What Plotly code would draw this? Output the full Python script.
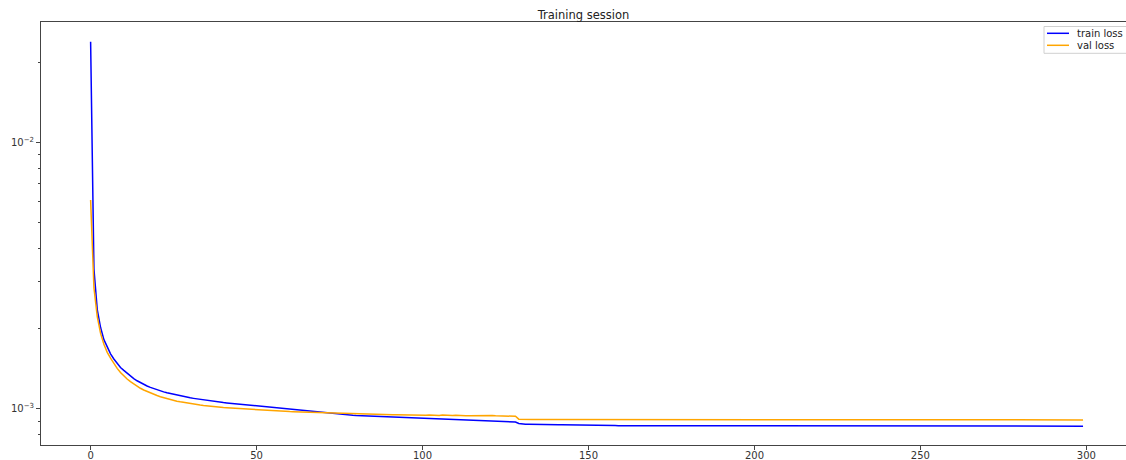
import plotly.graph_objects as go

train_loss = [
    0.0238, 0.00335, 0.00236, 0.00202, 0.00182, 0.00170, 0.00161, 0.00154, 0.00148, 0.00143,
    0.001395, 0.001360, 0.001328, 0.001300, 0.001276, 0.001255, 0.001236, 0.001220, 0.001205, 0.001192,
    0.001180, 0.001169, 0.001159, 0.001150, 0.001142, 0.001134, 0.001127, 0.001120, 0.001113, 0.001107,
    0.001101, 0.001096, 0.001091, 0.001086, 0.001081, 0.001077, 0.001073, 0.001069, 0.001065, 0.001061,
    0.001057, 0.001054, 0.001051, 0.001048, 0.001045, 0.001042, 0.001039, 0.001036, 0.001033, 0.001030,
    0.001027, 0.001024, 0.001021, 0.001018, 0.001015, 0.001012, 0.001009, 0.001006, 0.001003, 0.001000,
    0.000997, 0.000994, 0.000991, 0.000988, 0.000985, 0.000982, 0.000979, 0.000976, 0.000973, 0.000970,
    0.000967, 0.000964, 0.000962, 0.000960, 0.000958, 0.000956, 0.000954, 0.000952, 0.000950, 0.000948,
    0.000946, 0.000945, 0.000944, 0.000943, 0.000942, 0.000941, 0.000940, 0.000939, 0.000938, 0.000937,
    0.000936, 0.000935, 0.000934, 0.000933, 0.000932, 0.000931, 0.000930, 0.000929, 0.000928, 0.000927,
    0.000926, 0.000925, 0.000924, 0.000923, 0.000921, 0.000920, 0.000919, 0.000918, 0.000916, 0.000915,
    0.000914, 0.000912, 0.000911, 0.000910, 0.000909, 0.000908, 0.000907, 0.000906, 0.000905, 0.000904,
    0.000903, 0.000902, 0.000900, 0.000899, 0.000898, 0.000897, 0.000896, 0.000895, 0.000893, 0.000882,
    0.000877, 0.000876, 0.000876, 0.000875, 0.000875, 0.000874, 0.000874, 0.000874, 0.000873, 0.000873,
    0.000873, 0.000872, 0.000872, 0.000872, 0.000871, 0.000871, 0.000871, 0.000870, 0.000870, 0.000870,
    0.000869, 0.000869, 0.000869, 0.000868, 0.000868, 0.000868, 0.000867, 0.000867, 0.000867, 0.000866,
    0.000866, 0.000866, 0.000866, 0.000865, 0.000865, 0.000865, 0.000864, 0.000864, 0.000864, 0.000864,
    0.000864, 0.000863, 0.000863, 0.000863, 0.000863, 0.000863, 0.000863, 0.000863, 0.000863, 0.000863,
    0.000863, 0.000863, 0.000862, 0.000863, 0.000863, 0.000863, 0.000862, 0.000863, 0.000863, 0.000863,
    0.000862, 0.000863, 0.000863, 0.000862, 0.000862, 0.000863, 0.000863, 0.000862, 0.000862, 0.000862,
    0.000863, 0.000862, 0.000862, 0.000862, 0.000863, 0.000862, 0.000862, 0.000862, 0.000862, 0.000862,
    0.000862, 0.000862, 0.000861, 0.000862, 0.000862, 0.000862, 0.000862, 0.000861, 0.000862, 0.000862,
    0.000862, 0.000862, 0.000861, 0.000862, 0.000862, 0.000862, 0.000861, 0.000862, 0.000862, 0.000861,
    0.000862, 0.000862, 0.000861, 0.000862, 0.000862, 0.000862, 0.000862, 0.000861, 0.000862, 0.000862,
    0.000862, 0.000861, 0.000862, 0.000862, 0.000862, 0.000861, 0.000862, 0.000862, 0.000862, 0.000862,
    0.000861, 0.000862, 0.000862, 0.000862, 0.000861, 0.000862, 0.000862, 0.000862, 0.000862, 0.000861,
    0.000862, 0.000862, 0.000862, 0.000861, 0.000862, 0.000862, 0.000862, 0.000862, 0.000861, 0.000862,
    0.000862, 0.000862, 0.000861, 0.000862, 0.000862, 0.000862, 0.000861, 0.000862, 0.000862, 0.000862,
    0.000862, 0.000861, 0.000862, 0.000862, 0.000862, 0.000861, 0.000862, 0.000862, 0.000862, 0.000862,
    0.000861, 0.000862, 0.000862, 0.000862, 0.000861, 0.000862, 0.000862, 0.000862, 0.000861, 0.000862,
]

val_loss = [
    0.00608, 0.00285, 0.00222, 0.00192, 0.00175, 0.00163, 0.00155, 0.00148, 0.00142, 0.00137,
    0.001330, 0.001296, 0.001266, 0.001240, 0.001217, 0.001196, 0.001178, 0.001162, 0.001148, 0.001135,
    0.001123, 0.001112, 0.001102, 0.001093, 0.001085, 0.001077, 0.001070, 0.001064, 0.001058, 0.001053,
    0.001048, 0.001043, 0.001039, 0.001035, 0.001031, 0.001027, 0.001024, 0.001021, 0.001018, 0.001015,
    0.001012, 0.001010, 0.001008, 0.001006, 0.001004, 0.001002, 0.001000, 0.000998, 0.000997, 0.000996,
    0.000994, 0.000992, 0.000990, 0.000988, 0.000987, 0.000985, 0.000984, 0.000982, 0.000981, 0.000980,
    0.000978, 0.000977, 0.000976, 0.000975, 0.000974, 0.000972, 0.000971, 0.000970, 0.000969, 0.000968,
    0.000967, 0.000966, 0.000965, 0.000964, 0.000963, 0.000962, 0.000961, 0.000961, 0.000960, 0.000959,
    0.000958, 0.000958, 0.000957, 0.000956, 0.000956, 0.000955, 0.000955, 0.000954, 0.000954, 0.000953,
    0.000953, 0.000952, 0.000952, 0.000951, 0.000951, 0.000950, 0.000950, 0.000950, 0.000949, 0.000949,
    0.000950, 0.000948, 0.000949, 0.000947, 0.000948, 0.000946, 0.000950, 0.000947, 0.000948, 0.000946,
    0.000947, 0.000944, 0.000945, 0.000944, 0.000943, 0.000944, 0.000942, 0.000943, 0.000944, 0.000942,
    0.000944, 0.000945, 0.000943, 0.000942, 0.000941, 0.000941, 0.000940, 0.000940, 0.000939, 0.000916,
    0.000914, 0.000914, 0.000914, 0.000913, 0.000913, 0.000913, 0.000913, 0.000913, 0.000913, 0.000912,
    0.000912, 0.000912, 0.000912, 0.000912, 0.000912, 0.000912, 0.000911, 0.000912, 0.000912, 0.000911,
    0.000911, 0.000911, 0.000911, 0.000911, 0.000911, 0.000911, 0.000911, 0.000911, 0.000911, 0.000911,
    0.000911, 0.000911, 0.000911, 0.000910, 0.000911, 0.000910, 0.000910, 0.000910, 0.000910, 0.000910,
    0.000910, 0.000910, 0.000910, 0.000910, 0.000910, 0.000910, 0.000910, 0.000910, 0.000910, 0.000910,
    0.000910, 0.000910, 0.000910, 0.000910, 0.000910, 0.000910, 0.000910, 0.000910, 0.000910, 0.000910,
    0.000910, 0.000910, 0.000910, 0.000910, 0.000910, 0.000910, 0.000910, 0.000910, 0.000910, 0.000910,
    0.000910, 0.000910, 0.000910, 0.000910, 0.000910, 0.000910, 0.000910, 0.000910, 0.000910, 0.000910,
    0.000910, 0.000910, 0.000910, 0.000910, 0.000910, 0.000910, 0.000910, 0.000910, 0.000910, 0.000910,
    0.000910, 0.000910, 0.000910, 0.000910, 0.000910, 0.000910, 0.000910, 0.000910, 0.000910, 0.000910,
    0.000910, 0.000910, 0.000910, 0.000910, 0.000910, 0.000910, 0.000910, 0.000910, 0.000910, 0.000910,
    0.000910, 0.000910, 0.000910, 0.000910, 0.000910, 0.000910, 0.000910, 0.000910, 0.000910, 0.000910,
    0.000910, 0.000910, 0.000910, 0.000910, 0.000910, 0.000910, 0.000910, 0.000910, 0.000910, 0.000910,
    0.000910, 0.000910, 0.000910, 0.000910, 0.000910, 0.000910, 0.000910, 0.000910, 0.000910, 0.000910,
    0.000910, 0.000910, 0.000910, 0.000910, 0.000910, 0.000910, 0.000910, 0.000910, 0.000910, 0.000910,
    0.000910, 0.000910, 0.000910, 0.000910, 0.000910, 0.000910, 0.000910, 0.000910, 0.000910, 0.000910,
    0.000910, 0.000910, 0.000910, 0.000910, 0.000910, 0.000910, 0.000910, 0.000910, 0.000910, 0.000910,
]

x_tick_vals = [0, 50, 100, 150, 200, 250, 300]
x_tick_text = ["0", "50", "100", "150", "200", "250", "300"]
y_tick_vals = [0.001, 0.01]
y_tick_text = ["10<sup>\u22123</sup>", "10<sup>\u22122</sup>"]
y_minor_vals = [0.0008, 0.0009, 0.002, 0.003, 0.004, 0.005, 0.006, 0.007, 0.008, 0.009, 0.02]

title_text = "Training session"
names = ["train loss", "val loss"]
colors = ["#0000ff", "#ffa500"]

FONT = "DejaVu Sans, Liberation Sans, sans-serif"
AX = "#444444"

# figure geometry; page body margin removed below so figure px == page px.
# The figure is a little wider than the window so the plot is cropped at the right.
W, H = 1132, 460
ML, MR, MT, MB = 41, 0, 22, 15
PW, PH = W - ML - MR, H - MT - MB


def px(xf):
    return (xf - ML) / PW


def py(yf):
    return (H - MB - yf) / PH


fig = go.Figure()
for name, ys, col in [(names[0], train_loss, colors[0]), (names[1], val_loss, colors[1])]:
    fig.add_trace(go.Scatter(x=list(range(len(ys))), y=ys, mode="lines",
                             name=name, line=dict(color=col, width=1.5)))

# legend drawn like matplotlib's compact legend box (cropped at the right edge)
shapes = [dict(type="rect", xref="paper", yref="paper",
               x0=px(1044), x1=px(1129), y0=py(53.3), y1=py(26.5),
               line=dict(color="#d0d0d0", width=1), fillcolor="rgba(255,255,255,0.8)", layer="above")]
annotations = []
for i, (name, col) in enumerate(zip(names, colors)):
    yy = 33.3 + i * 12.0
    shapes.append(dict(type="line", xref="paper", yref="paper",
                       x0=px(1047), x1=px(1069), y0=py(yy), y1=py(yy),
                       line=dict(color=col, width=1.5), layer="above"))
    annotations.append(dict(text=name, xref="paper", yref="paper", x=px(1075), y=py(yy),
                            xanchor="left", yanchor="middle", showarrow=False,
                            font=dict(family=FONT, size=10, color="#222222")))

fig.update_layout(
    width=W, height=H,
    margin=dict(l=ML, r=MR, t=MT, b=MB, autoexpand=False),
    paper_bgcolor="white", plot_bgcolor="white",
    hovermode=False,
    font=dict(family=FONT, size=10, color="#333333"),
    title=dict(text=title_text, x=px(583.5), xref="paper", xanchor="center",
               y=1, yref="paper", yanchor="bottom", pad=dict(b=3),
               font=dict(family=FONT, size=11.5, color="#222222")),
    showlegend=False,
    shapes=shapes,
    annotations=annotations,
    xaxis=dict(range=[-14.95, 313.75], showgrid=False, zeroline=False,
               showline=True, linecolor=AX, linewidth=1, mirror=True,
               ticks="outside", ticklen=4, tickcolor=AX,
               ticklabelstandoff=-3,
               tickvals=x_tick_vals, ticktext=x_tick_text,
               tickfont=dict(family=FONT, size=10, color="#333333")),
    yaxis=dict(type="log", range=[-3.135, -1.549], showgrid=False, zeroline=False,
               showline=True, linecolor=AX, linewidth=1, mirror=False,
               ticks="outside", ticklen=4, tickcolor=AX,
               tickvals=y_tick_vals, ticktext=y_tick_text,
               tickfont=dict(family=FONT, size=10, color="#333333"),
               minor=dict(tickvals=y_minor_vals, ticks="outside", ticklen=2,
                          tickcolor=AX, showgrid=False)),
)

fig.write_html("out.html", config={"displayModeBar": False},
               post_script="document.body.style.margin='0';document.body.style.overflow='hidden';")
